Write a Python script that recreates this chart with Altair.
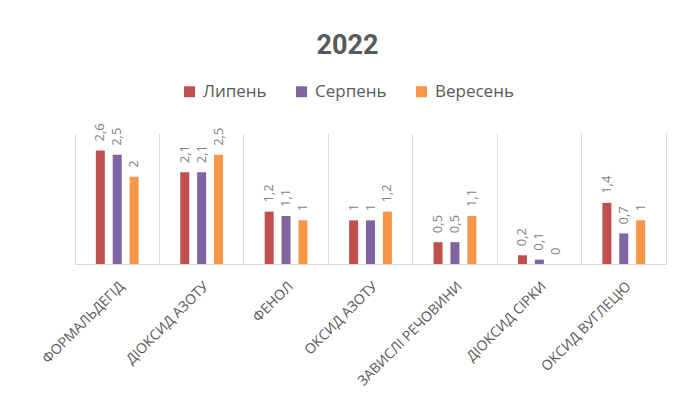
import altair as alt
import pandas as pd

categories = ["ФОРМАЛЬДЕГІД", "ДІОКСИД АЗОТУ", "ФЕНОЛ", "ОКСИД АЗОТУ",
              "ЗАВИСЛІ РЕЧОВИНИ", "ДІОКСИД СІРКИ", "ОКСИД ВУГЛЕЦЮ"]
months = ["Липень", "Серпень", "Вересень"]
lypen = [2.6, 2.1, 1.2, 1.0, 0.5, 0.2, 1.4]
serpen = [2.5, 2.1, 1.1, 1.0, 0.5, 0.1, 0.7]
veresen = [2.0, 2.5, 1.0, 1.2, 1.1, 0.0, 1.0]
colors = ["#c0504d", "#8064a2", "#f79646"]

rows = []
for m, vals in zip(months, [lypen, serpen, veresen]):
    for c, v in zip(categories, vals):
        rows.append({"category": c, "month": m, "value": v,
                     "label": f"{v:g}".replace(".", ",")})
df = pd.DataFrame(rows)

FONT = "Open Sans"
GRAY = "#595959"
LINE = "#d9d9d9"

x_enc = alt.X("category:N", sort=categories,
              scale=alt.Scale(paddingInner=0, paddingOuter=0),
              axis=alt.Axis(title=None, labelAngle=-45, labelAlign="right",
                            labelBaseline="top", labelPadding=15, ticks=False,
                            domainColor=LINE, domainWidth=1,
                            labelColor=GRAY, labelFontSize=14, labelFont=FONT,
                            grid=True, gridColor=LINE, bandPosition=0))
xo_enc = alt.XOffset("month:N", sort=months,
                     scale=alt.Scale(paddingInner=0, paddingOuter=1))
y_enc = alt.Y("value:Q", scale=alt.Scale(domain=[0, 3]),
              axis=alt.Axis(orient="right", title=None, labels=False,
                            ticks=False, grid=False, domainColor=LINE))

base = alt.Chart(df)

bars = base.mark_bar(width=9).encode(
    x=x_enc, xOffset=xo_enc, y=y_enc,
    color=alt.Color("month:N", sort=months,
                    scale=alt.Scale(domain=months, range=colors),
                    legend=alt.Legend(title=None, orient="none", legendX=106,
                                      legendY=-50, direction="horizontal",
                                      symbolType="square", symbolSize=121,
                                      symbolStrokeWidth=0, labelFontSize=17,
                                      labelFont=FONT, labelColor=GRAY,
                                      columnPadding=26, labelOffset=5)),
)

texts = base.mark_text(angle=270, align="left", baseline="middle",
                       dx=9, fontSize=13, font=FONT, color="#7f7f7f").encode(
    x=x_enc, xOffset=xo_enc, y=y_enc, text="label:N")

chart = alt.layer(bars, texts).properties(
    width=591, height=131,
    title=alt.Title("2022", fontSize=27, fontWeight="bold", color=GRAY,
                    font="Roboto", dx=-23, dy=-19, anchor="middle"),
    autosize=alt.AutoSizeParams(type="none"),
    padding={"left": 67, "top": 125, "right": 5, "bottom": 139},
).configure_view(stroke=None)

chart.save("out.html", embed_options={"renderer": "svg", "actions": False})
